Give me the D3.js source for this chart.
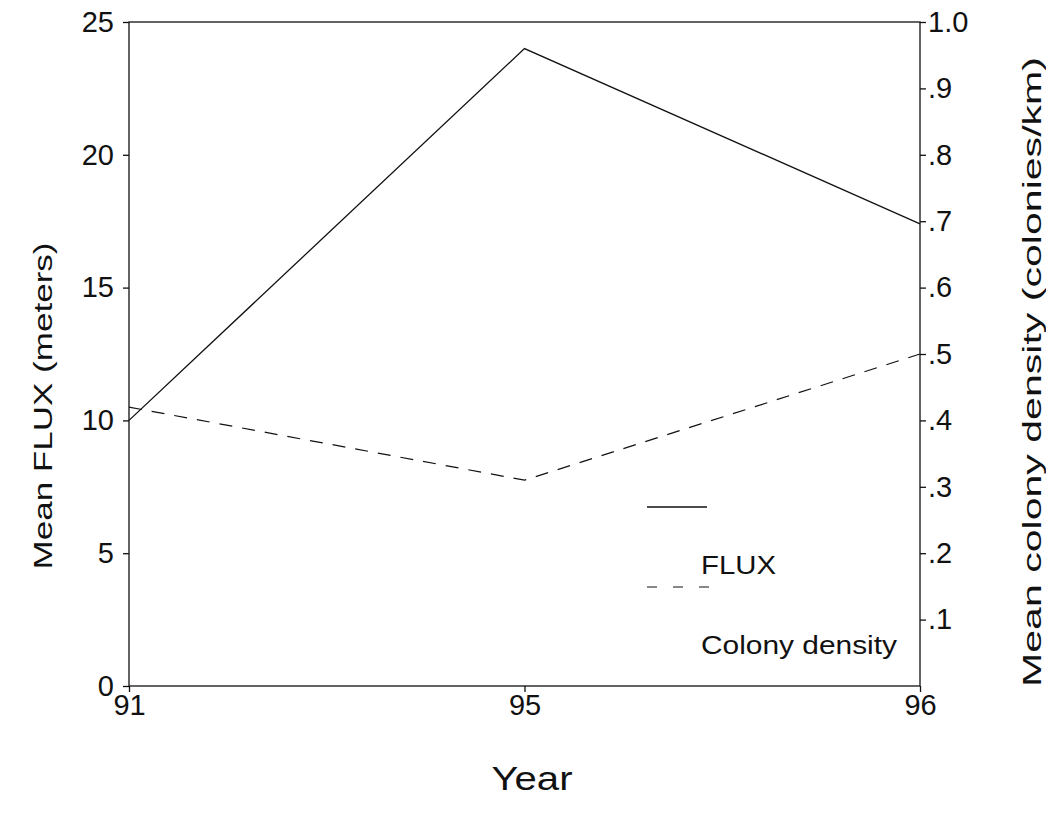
<!DOCTYPE html>
<html>
<head>
<meta charset="utf-8">
<script src="https://cdn.jsdelivr.net/npm/d3@7"></script>
<style>
body{margin:0;background:#fff;}
svg text{font-family:"Liberation Sans",Arial,sans-serif;fill:#111;}
</style>
</head>
<body>
<svg id="chart" width="1046" height="834"></svg>
<script>
// data
var years = ["91","95","96"];
var flux = [10.0, 24.0, 17.4];
var density = [0.42, 0.31, 0.50];
var leftTicks = [0,5,10,15,20,25];
var rightTicks = [0.1,0.2,0.3,0.4,0.5,0.6,0.7,0.8,0.9,1.0];

var svg = d3.select("#chart");
var pLeft = 129, pRight = 920, pTop = 22, pBottom = 686;

var x = d3.scalePoint().domain(years).range([pLeft, pRight]);
var yL = d3.scaleLinear().domain([0,25]).range([pBottom, pTop]);
var yR = d3.scaleLinear().domain([0,1]).range([pBottom, pTop]);

// frame
svg.append("rect")
	.attr("x",pLeft).attr("y",pTop)
	.attr("width",pRight-pLeft).attr("height",pBottom-pTop)
	.attr("fill","none").attr("stroke","#111").attr("stroke-width",1.3);

var axL = svg.append("g").attr("transform","translate("+pLeft+",0)")
	.call(d3.axisLeft(yL).tickValues(leftTicks).tickSize(6).tickPadding(9).tickFormat(d3.format("d")));
var axR = svg.append("g").attr("transform","translate("+pRight+",0)")
	.call(d3.axisRight(yR).tickValues(rightTicks).tickSize(6).tickPadding(2)
		.tickFormat(function(d){return d==1 ? "1.0" : d3.format(".1f")(d).replace(/^0/,"");}));
var axB = svg.append("g").attr("transform","translate(0,"+pBottom+")")
	.call(d3.axisBottom(x).tickSize(6).tickPadding(2));

[axL,axR,axB].forEach(function(a){
	a.select(".domain").remove();
	a.selectAll("line").attr("stroke","#111").attr("stroke-width",1.3);
	a.selectAll("text").style("font-size","29px").attr("fill","#111");
});

// lines
var fluxLine = d3.line().x(function(d,i){return x(years[i]);}).y(function(d){return yL(d);});
var densLine = d3.line().x(function(d,i){return x(years[i]);}).y(function(d){return yR(d);});

svg.append("path").datum(flux).attr("d",fluxLine)
	.attr("fill","none").attr("stroke","#111").attr("stroke-width",1.3);
svg.append("path").datum(density).attr("d",densLine)
	.attr("fill","none").attr("stroke","#111").attr("stroke-width",1.2)
	.attr("stroke-dasharray","13,10");

// legend
var legend = svg.append("g");
legend.append("line").attr("x1",647).attr("x2",707).attr("y1",507).attr("y2",507)
	.attr("stroke","#111").attr("stroke-width",1.3);
legend.append("text").attr("x",701).attr("y",574).style("font-size","25px")
	.attr("textLength",75).attr("lengthAdjust","spacingAndGlyphs").text("FLUX");
legend.append("line").attr("x1",647).attr("x2",710).attr("y1",587).attr("y2",587)
	.attr("stroke","#111").attr("stroke-width",1.2).attr("stroke-dasharray","10,16");
legend.append("text").attr("x",701).attr("y",654).style("font-size","25px")
	.attr("textLength",196).attr("lengthAdjust","spacingAndGlyphs").text("Colony density");

// axis titles
svg.append("text").attr("transform","translate(52,406) rotate(-90)")
	.attr("text-anchor","middle").style("font-size","26px")
	.attr("textLength",327).attr("lengthAdjust","spacingAndGlyphs").text("Mean FLUX (meters)");
svg.append("text").attr("transform","translate(1041,372) rotate(-90)")
	.attr("text-anchor","middle").style("font-size","26px")
	.attr("textLength",630).attr("lengthAdjust","spacingAndGlyphs").text("Mean colony density (colonies/km)");
svg.append("text").attr("x",532).attr("y",790)
	.attr("text-anchor","middle").style("font-size","33px")
	.attr("textLength",81).attr("lengthAdjust","spacingAndGlyphs").text("Year");
</script>
</body>
</html>
